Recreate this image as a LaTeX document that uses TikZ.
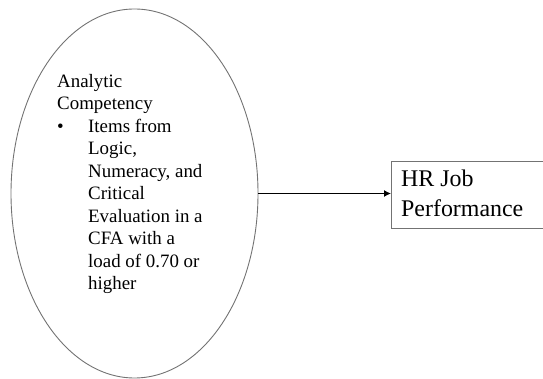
\documentclass[tikz,border=0pt]{standalone}
\usepackage{fontspec}
\setmainfont{Liberation Serif}
\newfontfamily\figfont{Liberation Serif}
\usetikzlibrary{shapes.geometric,arrows.meta}
\begin{document}
\begin{tikzpicture}[x=1pt,y=-1pt,
  font=\figfont,
  outline/.style={draw=black!55, line width=0.9pt},
  construct/.style={outline, ellipse, inner sep=0pt,
    minimum width=247pt, minimum height=369pt},
  outcome/.style={outline, rectangle, inner sep=0pt, anchor=north west,
    minimum width=175pt, minimum height=67pt},
  label/.style={anchor=base west, inner sep=0pt},
  link/.style={draw=black, line width=1.2pt, -{Latex[length=7pt,width=7pt]}}]
  \useasboundingbox (0,0) rectangle (543,379);
  \clip (0,0) rectangle (543,379);

  % predictor construct
  \node[construct] (analytic) at (134.5,193.5) {};
  \node[label] (analytictext) at (57,87.3) {\parbox[t]{200pt}{%
    \figfont\fontsize{18.9}{22.5}\selectfont
    Analytic\\
    Competency\\
    \makebox[31pt][l]{•}Items from\\
    \hspace*{31pt}Logic,\\
    \hspace*{31pt}Numeracy, and\\
    \hspace*{31pt}Critical\\
    \hspace*{31pt}Evaluation in a\\
    \hspace*{31pt}CFA with a\\
    \hspace*{31pt}load of 0.70 or\\
    \hspace*{31pt}higher}};

  % outcome
  \node[outcome] (perf) at (391,161) {};
  \node[label] (perftext) at (401,187) {\parbox[t]{140pt}{%
    \figfont\fontsize{23.9}{30}\selectfont
    HR Job\\
    Performance}};

  \draw[link] (analytic.east) -- (analytic.east -| perf.west);
\end{tikzpicture}
\end{document}
